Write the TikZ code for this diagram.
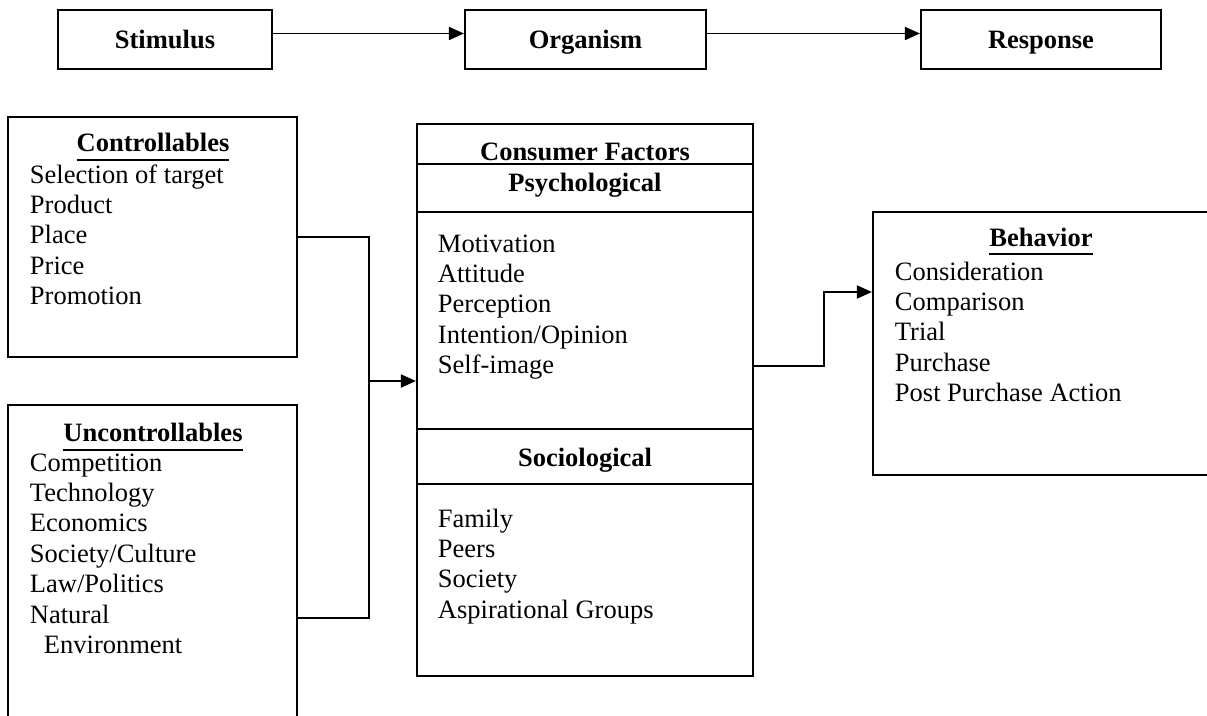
\documentclass[tikz,border=0pt]{standalone}
\usepackage{fontspec}
\setmainfont{Liberation Serif}
\usetikzlibrary{arrows.meta,calc}

% underlined heading, thick rule like a word processor
\newcommand{\headul}[1]{\setbox0\hbox{#1}\rlap{\rule[-9pt]{\wd0}{2pt}}\box0}

\begin{document}
\begin{tikzpicture}[x=1pt, y=-1pt, >={Triangle[length=15pt,width=13pt]},
  font=\fontsize{26.5}{30.4}\selectfont, line width=1.9pt,
  box/.style={draw, line width=2.2pt, inner sep=0pt},
  head/.style={font=\fontsize{26.5}{30.4}\selectfont\bfseries, anchor=base, inner sep=0pt},
  item/.style={anchor=base west, inner sep=0pt}]

\useasboundingbox (0,0) rectangle (1207,715);
\clip (0,0) rectangle (1207,715);

% Top row: S-O-R
\node[box, minimum width=214, minimum height=59] (stim) at (165,39.5) {};
\node[box, minimum width=241, minimum height=59] (org) at (585.5,39.5) {};
\node[box, minimum width=240, minimum height=59] (resp) at (1041,39.5) {};
\node[head] (stimtxt) at (165,48) {Stimulus};
\node[head] (orgtxt) at (585.5,48) {Organism};
\node[head] (resptxt) at (1041,48) {Response};

\draw[->] ([yshift=6]stim.east) -- ([yshift=6]org.west);
\draw[->] ([yshift=6]org.east) -- ([yshift=6]resp.west);

% Left column: stimuli
\node[box, minimum width=289, minimum height=240] (ctrl) at (152.5,237) {};
\node[head] (ctrlhead) at (153,151.5) {\headul{Controllables}};
\foreach \t [count=\i] in {Selection of target,Product,Place,Price,Promotion}
  \node[item] (ctrl-\i) at (29,{183+30.4*(\i-1)}) {\t};

\node[box, minimum width=289, minimum height=330] (unc) at (152.5,570) {};
\node[head] (unchead) at (153,441.5) {\headul{Uncontrollables}};
\foreach \t [count=\i] in {Competition,Technology,Economics,Society/Culture,Law/Politics,Natural}
  \node[item] (unc-\i) at (29,{471+30.4*(\i-1)}) {\t};
\node[item] (unc-7) at (43,653.4) {Environment};

% Middle: consumer factors
\node[box, minimum width=336, minimum height=552] (cf) at (585,400) {};
\foreach \y in {164,212,429,484}
  \draw[line width=2.2pt] (cf.west |- 0,\y) -- (cf.east |- 0,\y);
\node[head] (cfhead) at (585,160) {Consumer Factors};
\node[head] (psyhead) at (585,191) {Psychological};
\foreach \t [count=\i] in {Motivation,Attitude,Perception,Intention/Opinion,Self-image}
  \node[item] (psy-\i) at (437,{252+30.4*(\i-1)}) {\t};
\node[head] (sochead) at (585,466) {Sociological};
\foreach \t [count=\i] in {Family,Peers,Society,Aspirational Groups}
  \node[item] (soc-\i) at (437,{527+30.4*(\i-1)}) {\t};

% Right: response
\node[box, minimum width=360, minimum height=263] (beh) at (1053,343.5) {};
\node[head] (behhead) at (1041,246) {\headul{Behavior}};
\foreach \t [count=\i] in {Consideration,Comparison,Trial,Purchase,Post Purchase Action}
  \node[item] (beh-\i) at (894,{280+30.4*(\i-1)}) {\t};

% Connectors
\coordinate (jtop) at (369,237);
\coordinate (jbot) at (369,618);
\coordinate (jmid) at (369,381);
\coordinate (kink) at (824,292);
\draw (ctrl.east) -- (jtop) -- (jbot) -- (jbot -| unc.east);
\draw[->] (jmid) -- (jmid -| cf.west);
\draw[->] (cf.east |- 0,366) -| (kink) -- (kink -| beh.west);

\end{tikzpicture}
\end{document}
